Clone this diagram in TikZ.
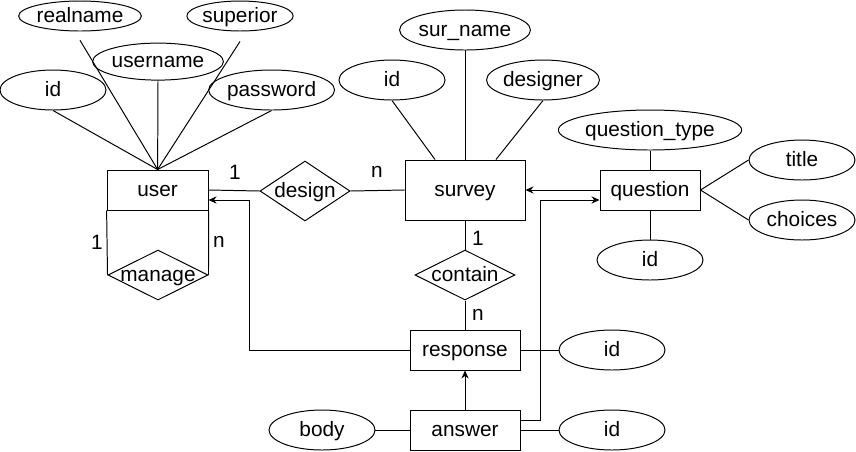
\documentclass[tikz,border=0pt]{standalone}
\usepackage{fontspec}
\setmainfont{Liberation Sans}
\usetikzlibrary{shapes.geometric, arrows.meta, positioning}
\tikzset{
  entity/.style={draw=black, line width=0.7pt, fill=white, minimum height=1cm, inner sep=0pt,
                 text height=0.9em, text depth=-0.15em},
  attr/.style={draw=black, line width=0.7pt, ellipse, fill=white, minimum width=2.65cm,
               minimum height=1cm, inner sep=0pt, text height=0.9em, text depth=-0.15em},
  rel/.style={draw=black, line width=0.7pt, diamond, fill=white, inner sep=0pt},
  relname/.style={text height=0.9em, text depth=-0.15em},
  link/.style={line width=0.7pt},
  arrow/.style={-{Stealth[length=2mm, width=1.8mm]}, line width=0.7pt},
  card/.style={inner sep=0pt},
}

\begin{document}
\begin{tikzpicture}[font=\fontsize{14.8}{17}\selectfont]
\useasboundingbox (0,0) rectangle (21.4,-11.275);
% entities
\node[entity, minimum width=2.525cm] (user) at (3.94,-4.75) {user};
\node[entity, minimum width=3cm, minimum height=1.5cm] (survey) at (11.625,-4.75) {survey};
\node[entity, minimum width=2.5cm] (question) at (16.25,-4.75) {question};
\node[entity, minimum width=2.75cm] (response) at (11.625,-8.75) {response};
\node[entity, minimum width=2.75cm] (answer) at (11.625,-10.75) {answer};
% relations
\node[rel, minimum width=2.25cm, minimum height=1.5cm,
      label={[relname]center:design}] (design) at (7.625,-4.775) {};
\node[rel, minimum width=2.5cm, minimum height=1.25cm,
      label={[relname]center:manage}] (manage) at (3.95,-6.875) {};
\node[rel, minimum width=2.5cm, minimum height=1.25cm,
      label={[relname]center:contain}] (contain) at (11.625,-6.875) {};
% user attributes
\node[attr] (uid) at (1.325,-2.25) {id};
\node[attr, minimum height=0.75cm] (realname) at (2.0,-0.4) {realname};
\node[attr, minimum height=0.925cm] (username) at (3.95,-1.54) {username};
\node[attr, minimum height=0.75cm] (superior) at (6.0,-0.4) {superior};
\node[attr] (password) at (6.79,-2.25) {password};
% survey attributes
\node[attr] (sid) at (9.8,-2.0) {id};
\node[attr] (surname) at (11.625,-0.75) {sur\_name};
\node[attr] (designer) at (13.575,-2.0) {designer};
% question attributes
\node[attr, minimum width=4.575cm] (qtype) at (16.25,-3.25) {question\_type};
\node[attr] (title) at (20.05,-4.0) {title};
\node[attr] (choices) at (20.05,-5.5) {choices};
\node[attr] (qid) at (16.25,-6.5) {id};
% response and answer attributes
\node[attr] (rid) at (15.3,-8.75) {id};
\node[attr] (aid) at (15.3,-10.75) {id};
\node[attr] (body) at (8.05,-10.75) {body};

% attribute links
\draw[link] (uid.south) -- (user.north);
\draw[link] ([yshift=-0.22cm]realname.south) -- (user.north);
\draw[link] (username.south) -- (user.north);
\draw[link] ([yshift=-0.25cm]superior.south) -- (user.north);
\draw[link] (password.south) -- (user.north);
\draw[link] (sid.south) -- ([xshift=-0.75cm]survey.north);
\draw[link] (surname.south) -- (survey.north);
\draw[link] (designer.south) -- ([xshift=0.775cm]survey.north);
\draw[link] (qtype.south) -- (question.north);
\draw[link] (qid.north) -- (question.south);
\draw[link] (question.east) -- (title.west);
\draw[link] (question.east) -- (choices.west);
\draw[link] (response.east) -- (rid.west);
\draw[link] (answer.east) -- (aid.west);
\draw[link] (body.east) -- (answer.west);

% relation links
\draw[link] (user.east) -- (design.west);
\draw[link] (design.east) -- (survey.west);
\draw[link] (user.south west) -- (manage.west);
\draw[link] (user.south east) -- (manage.east);
\draw[link] (survey.south) -- (contain.north);
\draw[link] (contain.south) -- (response.north);
\node[card] (c1) at (5.875,-4.3) {1};
\node[card] (c2) at (9.425,-4.3) {n};
\node[card] (c3) at (2.425,-6.05) {1};
\node[card] (c4) at (5.475,-6.05) {n};
\node[card] (c5) at (11.95,-5.95) {1};
\node[card] (c6) at (11.95,-7.875) {n};

% arrows
\draw[arrow] (question.west) -- (survey.east);
\draw[arrow] (answer.north) -- (response.south);
\draw[arrow] ([yshift=0.25cm]answer.east) -- ++(0.5,0) |- ([yshift=-0.25cm]question.west);
\draw[arrow] (response.west) -- ++(-4,0) |- ([yshift=-0.25cm]user.east);
\end{tikzpicture}
\end{document}
